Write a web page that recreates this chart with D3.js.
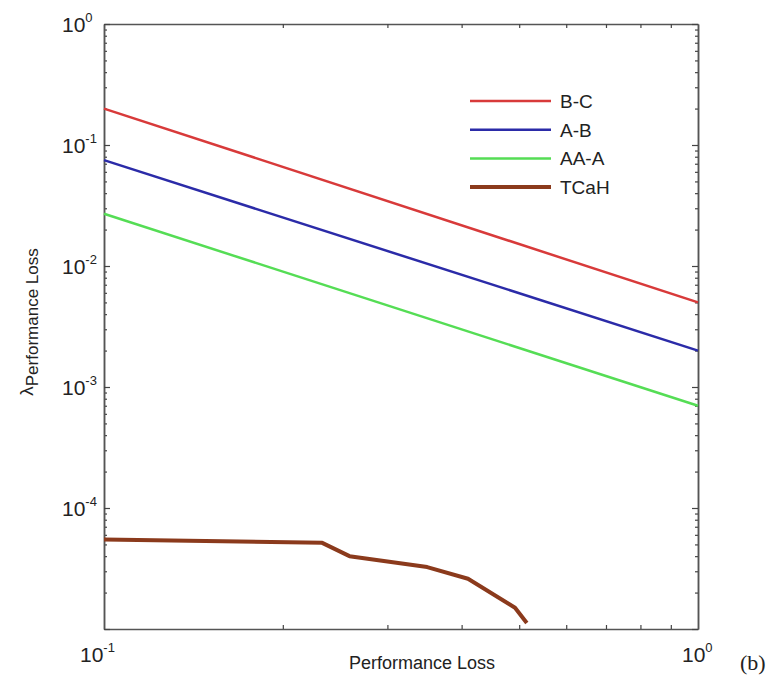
<!DOCTYPE html>
<html>
<head>
<meta charset="utf-8">
<script src="https://cdn.jsdelivr.net/npm/d3@7"></script>
<style>
  body { margin: 0; background: #fff; }
  text { font-family: Arial, "Liberation Sans", sans-serif; fill: #222; }
</style>
</head>
<body>
<script>
// series data (x = performance loss, y = lambda)
var seriesNames = ["B-C", "A-B", "AA-A", "TCaH"];
var seriesColors = ["#d83a3a", "#2b2ba8", "#55dd55", "#8b3a1c"];
var seriesWidths = [2.5, 2.5, 2.5, 4];
var bcX = [0.1, 1], bcY = [0.2, 0.005];
var abX = [0.1, 1], abY = [0.075, 0.002];
var aaX = [0.1, 1], aaY = [0.027, 0.0007];
var tcX = [0.1, 0.233, 0.259, 0.350, 0.410, 0.492, 0.515];
var tcY = [5.5e-5, 5.15e-5, 4.0e-5, 3.25e-5, 2.6e-5, 1.5e-5, 1.12e-5];
var xExps = [-1, 0];
var yExps = [0, -1, -2, -3, -4];

var seriesX = [bcX, abX, aaX, tcX];
var seriesY = [bcY, abY, aaY, tcY];

var plotLeft = 104, plotTop = 24, plotRight = 698, plotBottom = 629;

var svg = d3.select("body").append("svg")
            .attr("width", 772)
            .attr("height", 690);

var x = d3.scaleLog().domain([0.1, 1]).range([plotLeft, plotRight]);
var y = d3.scaleLog().domain([1e-5, 1]).range([plotBottom, plotTop]);

// minor + major tick positions
var xMinor = [], yMinor = [];
for (var k = 2; k <= 9; k++) xMinor.push(k * 0.1);
for (var e = -5; e < 0; e++) for (var k = 2; k <= 9; k++) yMinor.push(k * Math.pow(10, e));
var yMajor = yExps.map(function(d) { return Math.pow(10, d); }).concat([1e-5]);

function styleAxis(g) {
  g.selectAll("path").attr("stroke", "#555").attr("stroke-width", 1.5);
  g.selectAll("line").attr("stroke", "#444").attr("stroke-width", 1.2);
  g.selectAll("text").remove();
}

// bottom / top (ticks pointing inward)
svg.append("g").attr("transform", "translate(0," + plotBottom + ")")
   .call(d3.axisBottom(x).tickValues(xMinor).tickSize(-4).tickSizeOuter(0)).call(styleAxis);
svg.append("g").attr("transform", "translate(0," + plotTop + ")")
   .call(d3.axisTop(x).tickValues(xMinor).tickSize(-4).tickSizeOuter(0)).call(styleAxis);
// left / right
svg.append("g").attr("transform", "translate(" + plotLeft + ",0)")
   .call(d3.axisLeft(y).tickValues(yMinor).tickSize(-3).tickSizeOuter(0)).call(styleAxis);
svg.append("g").attr("transform", "translate(" + plotLeft + ",0)")
   .call(d3.axisLeft(y).tickValues(yMajor).tickSize(-6).tickSizeOuter(0)).call(styleAxis);
svg.append("g").attr("transform", "translate(" + plotRight + ",0)")
   .call(d3.axisRight(y).tickValues(yMinor).tickSize(-3).tickSizeOuter(0)).call(styleAxis);
svg.append("g").attr("transform", "translate(" + plotRight + ",0)")
   .call(d3.axisRight(y).tickValues(yMajor).tickSize(-6).tickSizeOuter(0)).call(styleAxis);

// y tick labels 10^n
yExps.forEach(function(d) {
  var t = svg.append("text")
     .attr("x", 62).attr("y", y(Math.pow(10, d)) + 8)
     .style("font-size", "21px");
  t.append("tspan").text("10");
  t.append("tspan").attr("dy", -10).style("font-size", "13px").text(d === 0 ? "0" : "-" + (-d));
});

// x tick labels
xExps.forEach(function(d) {
  var t = svg.append("text")
     .attr("x", x(Math.pow(10, d)) - (d === 0 ? 16 : 24)).attr("y", 662)
     .style("font-size", "21px");
  t.append("tspan").text("10");
  t.append("tspan").attr("dy", -10).style("font-size", "13px").text(d === 0 ? "0" : "-" + (-d));
});

// lines
var line = d3.line()
             .x(function(d) { return x(d[0]); })
             .y(function(d) { return y(d[1]); });

var plot = svg.append("g");
seriesNames.forEach(function(name, i) {
  var pts = seriesX[i].map(function(v, j) { return [v, seriesY[i][j]]; });
  plot.append("path")
      .datum(pts)
      .attr("d", line)
      .attr("fill", "none")
      .attr("stroke", seriesColors[i])
      .attr("stroke-width", seriesWidths[i])
      .attr("stroke-linejoin", "round");
});

// legend
var legend = svg.append("g");
seriesNames.forEach(function(name, i) {
  var ly = 101 + i * 28.7;
  legend.append("line")
        .attr("x1", 470).attr("x2", 551)
        .attr("y1", ly).attr("y2", ly)
        .attr("stroke", seriesColors[i])
        .attr("stroke-width", seriesWidths[i]);
  legend.append("text")
        .attr("x", 560).attr("y", ly + 7)
        .style("font-size", "19px")
        .text(name);
});

// axis titles
svg.append("text")
   .attr("x", 422).attr("y", 669)
   .attr("text-anchor", "middle")
   .style("font-size", "18px")
   .text("Performance Loss");

var yl = svg.append("text")
   .attr("transform", "translate(33,322) rotate(-90)")
   .attr("text-anchor", "middle")
   .style("font-size", "19px");
yl.append("tspan").text("λ");
yl.append("tspan").attr("dy", 5).style("font-size", "17px").text("Performance Loss");

svg.append("text")
   .attr("x", 740).attr("y", 670)
   .style("font-family", "'Liberation Serif', 'DejaVu Serif', serif")
   .style("font-size", "22px")
   .text("(b)");
</script>
</body>
</html>
